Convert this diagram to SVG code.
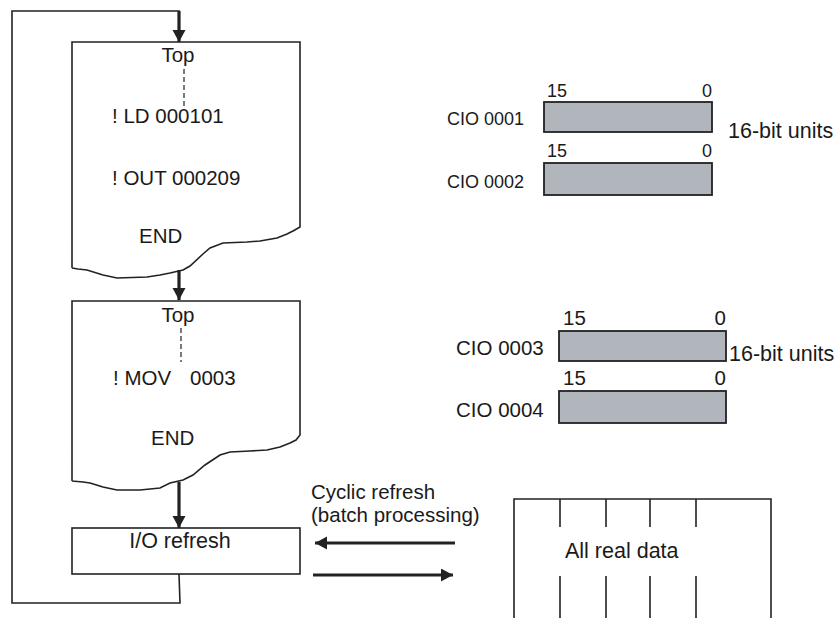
<svg xmlns="http://www.w3.org/2000/svg" width="840" height="618" viewBox="0 0 840 618">
<style>
text{font-family:"Liberation Sans",Arial,sans-serif;font-size:20.5px;fill:#1a1a1a}
.sm{font-size:18px}
.lg{font-size:21.5px}
.ln{fill:none;stroke:#222;stroke-width:1.6}
.ar{fill:none;stroke:#222;stroke-width:3.2}
.reg{fill:#b1b6bc;stroke:#222;stroke-width:1.8}
.dash{stroke:#333;stroke-width:1.3;stroke-dasharray:5,3}
</style>
<defs>
<marker id="ah" markerUnits="userSpaceOnUse" markerWidth="14" markerHeight="14" refX="12" refY="6.5" orient="auto">
<path d="M0,0 L12,6.5 L0,13 Z" fill="#222"/>
</marker>
</defs>
<g id="connectors">
<path class="ln" d="M179,574 L180,603 L12,603 L12,11 L179,11 L179,26"/>
<line class="ar" x1="179" y1="11" x2="179" y2="42" marker-end="url(#ah)"/>
<line class="ar" x1="179" y1="270" x2="179" y2="300" marker-end="url(#ah)"/>
<line class="ar" x1="179" y1="482" x2="179" y2="528" marker-end="url(#ah)"/>
<line class="ar" x1="455" y1="543" x2="315" y2="543" marker-end="url(#ah)"/>
<line class="ar" x1="313" y1="575" x2="453" y2="575" marker-end="url(#ah)"/>
</g>
<g id="prog1">
<path class="ln" d="M72,268 L72,42 L300,42 L300,227 L293,231 L287,234 L277,238 L260,241 L247,242 L223,243 L210,248 L203,254 L190,266 L183,270 L170,273 L160,275 L147,277 L117,278 L103,275 L87,270 L78,269 L72,268"/>
<text x="178" y="62" text-anchor="middle">Top</text>
<line class="dash" x1="184" y1="69" x2="184" y2="106"/>
<text x="112" y="123">! LD 000101</text>
<text x="112" y="185">! OUT 000209</text>
<text x="139" y="243">END</text>
</g>
<g id="prog2">
<path class="ln" d="M72,481 L72,301 L300,301 L300,435 L296,440 L290,443 L280,447 L267,450 L250,451 L230,452 L220,455 L205,465 L193,475 L183,480 L170,483 L160,488 L140,490 L117,490 L103,487 L90,483 L83,482 L72,481"/>
<text x="178" y="322" text-anchor="middle">Top</text>
<line class="dash" x1="181" y1="328" x2="181" y2="362"/>
<text x="113" y="385">! MOV</text>
<text x="190" y="385">0003</text>
<text x="151" y="445">END</text>
</g>
<g id="io_refresh">
<rect class="ln" x="72" y="528" width="228" height="46"/>
<text x="180" y="548" text-anchor="middle" class="lg">I/O refresh</text>
</g>
<g id="cio_0001_0002">
<text class="sm" x="447" y="125">CIO 0001</text>
<text class="sm" x="547" y="97">15</text>
<text class="sm" x="712" y="97" text-anchor="end">0</text>
<rect class="reg" x="544" y="102" width="168" height="30"/>
<text class="sm" x="447" y="188">CIO 0002</text>
<text class="sm" x="547" y="157">15</text>
<text class="sm" x="712" y="157" text-anchor="end">0</text>
<rect class="reg" x="544" y="163" width="168" height="32"/>
<text class="lg" x="728" y="138">16-bit units</text>
</g>
<g id="cio_0003_0004">
<text x="456" y="355">CIO 0003</text>
<text x="563" y="325">15</text>
<text x="726" y="325" text-anchor="end">0</text>
<rect class="reg" x="559" y="331" width="167" height="30"/>
<text x="456" y="417">CIO 0004</text>
<text x="563" y="385">15</text>
<text x="726" y="385" text-anchor="end">0</text>
<rect class="reg" x="559" y="391" width="167" height="32"/>
<text class="lg" x="729" y="361">16-bit units</text>
</g>
<g id="cyclic_label">
<text x="311" y="499" style="font-size:20.5px"><tspan x="311" y="499">Cyclic refresh</tspan><tspan x="311" y="522">(batch processing)</tspan></text>
</g>
<g id="real_data">
<path class="ln" d="M514,618 L514,499 L771,499 L771,618"/>
<path class="ln" d="M560,499 V527 M606,499 V527 M650,499 V527 M696,499 V527 M560,576 V618 M606,576 V618 M650,576 V618 M696,576 V618"/>
<text x="565" y="558" class="lg">All real data</text>
</g>
</svg>
